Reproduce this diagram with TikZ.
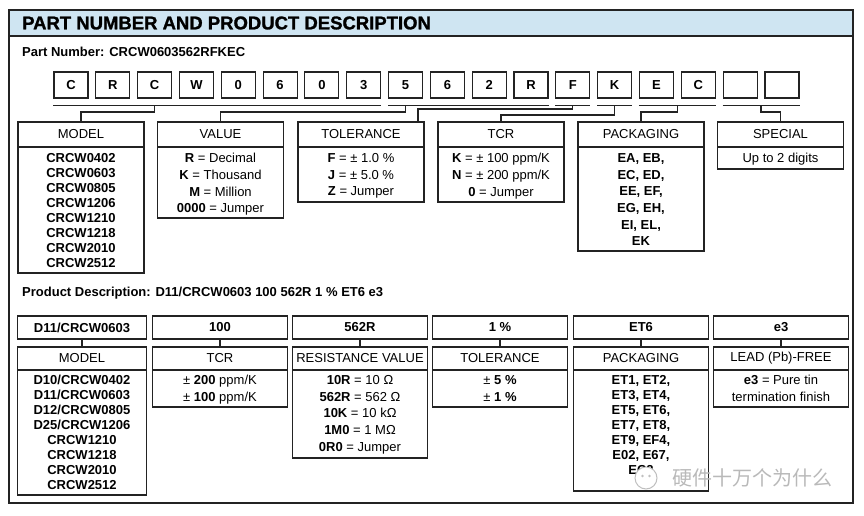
\documentclass[tikz,border=0pt]{standalone}
\usepackage{fontspec}
\setmainfont{Liberation Sans}
\newfontfamily\titlefont{Liberation Sans Bold}[FakeBold=1.3]
\newfontfamily\cjkfont{Noto Sans CJK SC}
\usetikzlibrary{positioning, calc}
\definecolor{headblue}{RGB}{207,229,242}
\definecolor{inkgray}{RGB}{35,35,35}
\tikzset{
  charbox/.style={
    draw=inkgray,
    line width=1.1pt,
    minimum width=34pt,
    minimum height=26pt,
    inner sep=0pt,
    font=\bfseries\fontsize{13}{15}\selectfont
  },
  cathead/.style={
    draw=inkgray,
    line width=1.1pt,
    minimum width=126pt,
    minimum height=25pt,
    inner sep=0pt,
    outer sep=0pt,
    font=\fontsize{13}{15}\selectfont
  },
  catbody/.style={
    draw=inkgray,
    line width=1.1pt,
    minimum width=126pt,
    inner sep=0pt,
    outer sep=0pt
  },
  bodytext/.style={
    anchor=north,
    inner sep=0pt,
    outer sep=0pt,
    align=center,
    font=\fontsize{13}{#1}\selectfont
  },
  bodytext/.default=16.7,
  strongtext/.style={bodytext, font=\bfseries\fontsize{13}{#1}\selectfont},
  strongtext/.default=15,
  codebox/.style={
    draw=inkgray,
    line width=1.1pt,
    minimum width=135pt,
    minimum height=23pt,
    inner sep=0pt,
    outer sep=0pt,
    font=\bfseries\fontsize{13}{15}\selectfont
  },
  link/.style={draw=inkgray, line width=1.1pt}
}

\begin{document}
\begin{tikzpicture}[x=1pt, y=-1pt]
  \useasboundingbox (0,0) rectangle (864,516);

  % frame and title band
  \fill[headblue] (9,10) rectangle (853,36);
  \draw[inkgray, line width=1.1pt] (9,36) -- (853,36);
  \draw[inkgray, line width=1.6pt] (9,10) rectangle (853,503);
  \node[anchor=west, inner sep=0pt, font=\titlefont\fontsize{18.5}{20}\selectfont] (title) at (22,23) {PART NUMBER AND PRODUCT DESCRIPTION};

  % part number
  \node[anchor=west, inner sep=0pt, font=\bfseries\fontsize{13}{15}\selectfont] (partno) at (22,52) {Part Number: CRCW0603562RFKEC};
  \foreach \c [count=\i from 0] in {C,R,C,W,0,6,0,3,5,6,2,R,F,K,E,C,{},{}}
    \node[charbox] (ch\i) at ({71+41.82*\i},85) {\c};

  \coordinate (lvlA) at (0,112);
  \coordinate (lvlB) at (0,109);
  \coordinate (lvlC) at (0,115);
  \coordinate (ecmid) at ($(ch14.south)!0.5!(ch15.south)$);
  \coordinate (spmid) at ($(ch16.south)!0.5!(ch17.south)$);

  \node[cathead, anchor=north] (modelhd) at (81,122) {MODEL};
  \node[catbody, minimum height=126pt, below=0pt of modelhd] (model) {};
  \node[strongtext, below=6.4pt of modelhd] (modeltext) {CRCW0402\\CRCW0603\\CRCW0805\\CRCW1206\\CRCW1210\\CRCW1218\\CRCW2010\\CRCW2512};

  \node[cathead, anchor=north] (valuehd) at (220.5,122) {VALUE};
  \node[catbody, minimum height=71pt, below=0pt of valuehd] (value) {};
  \node[bodytext, below=6.4pt of valuehd] (valuetext) {\textbf{R} = Decimal\\\textbf{K} = Thousand\\\textbf{M} = Million\\\textbf{0000} = Jumper};

  \node[cathead, anchor=north] (tolerancehd) at (361,122) {TOLERANCE};
  \node[catbody, minimum height=55pt, below=0pt of tolerancehd] (tolerance) {};
  \node[bodytext, below=6.4pt of tolerancehd] (tolerancetext) {\textbf{F} = ± 1.0 \%\\\textbf{J} = ± 5.0 \%\\\textbf{Z} = Jumper};

  \node[cathead, anchor=north] (tcrhd) at (501,122) {TCR};
  \node[catbody, minimum height=55pt, below=0pt of tcrhd] (tcr) {};
  \node[bodytext, below=6.4pt of tcrhd] (tcrtext) {\textbf{K} = ± 100 ppm/K\\\textbf{N} = ± 200 ppm/K\\\textbf{0} = Jumper};

  \node[cathead, anchor=north] (packaginghd) at (641,122) {PACKAGING};
  \node[catbody, minimum height=104pt, below=0pt of packaginghd] (packaging) {};
  \node[strongtext=16.7, below=6.4pt of packaginghd] (packagingtext) {EA, EB,\\EC, ED,\\EE, EF,\\EG, EH,\\EI, EL,\\EK};

  \node[cathead, anchor=north] (specialhd) at (780.5,122) {SPECIAL};
  \node[catbody, minimum height=22pt, below=0pt of specialhd] (special) {};
  \node[bodytext, below=6.4pt of specialhd] (specialtext) {Up to 2 digits};

  % brackets under the part number
  \draw[link] ([yshift=-7pt]ch0.south west) -- ([yshift=-7pt]ch7.south east);
  \draw[link] ([yshift=-7pt]ch2.south) |- (modelhd.north |- lvlA) -- (modelhd.north);
  \draw[link] ([yshift=-7pt]ch8.south west) -- ([yshift=-7pt]ch11.south east);
  \draw[link] ([yshift=-7pt]ch8.south) |- (valuehd.north |- lvlA) -- (valuehd.north);
  \draw[link] ([yshift=-7pt]ch12.south west) -- ([yshift=-7pt]ch12.south east);
  \draw[link] ([yshift=-7pt]ch12.south) |- ([xshift=-6pt]tolerancehd.north east |- lvlB) -- ([xshift=-6pt]tolerancehd.north east);
  \draw[link] ([yshift=-7pt]ch13.south west) -- ([yshift=-7pt]ch13.south east);
  \draw[link] ([yshift=-7pt]ch13.south) |- (tcrhd.north |- lvlC) -- (tcrhd.north);
  \draw[link] ([yshift=-7pt]ch14.south west) -- ([yshift=-7pt]ch15.south east);
  \draw[link] ([yshift=-7pt]ecmid) |- (packaginghd.north |- lvlA) -- (packaginghd.north);
  \draw[link] ([yshift=-7pt]ch16.south west) -- ([yshift=-7pt]ch17.south east);
  \draw[link] ([yshift=-7pt]spmid) |- (specialhd.north |- lvlA) -- (specialhd.north);

  % product description
  \node[anchor=west, inner sep=0pt, font=\bfseries\fontsize{13}{15}\selectfont] (proddesc) at (22,292.7) {Product Description: D11/CRCW0603 100 562R 1 \% ET6 e3};

  \node[codebox, minimum width=129pt] (dmodelcode) at (82,327.5) {D11/CRCW0603};
  \node[cathead, minimum width=129pt, minimum height=23pt, below=8pt of dmodelcode] (dmodelhd) {MODEL};
  \node[catbody, minimum width=129pt, minimum height=125pt, below=0pt of dmodelhd] (dmodel) {};
  \node[strongtext, below=5.4pt of dmodelhd] (dmodeltext) {D10/CRCW0402\\D11/CRCW0603\\D12/CRCW0805\\D25/CRCW1206\\CRCW1210\\CRCW1218\\CRCW2010\\CRCW2512};

  \node[codebox] (dtcrcode) at (220,327.5) {100};
  \node[cathead, minimum width=135pt, minimum height=23pt, below=8pt of dtcrcode] (dtcrhd) {TCR};
  \node[catbody, minimum width=135pt, minimum height=37pt, below=0pt of dtcrhd] (dtcr) {};
  \node[bodytext=17, below=5.4pt of dtcrhd] (dtcrtext) {± \textbf{200} ppm/K\\± \textbf{100} ppm/K};

  \node[codebox] (drescode) at (360,327.5) {562R};
  \node[cathead, minimum width=135pt, minimum height=23pt, below=8pt of drescode] (dreshd) {RESISTANCE VALUE};
  \node[catbody, minimum width=135pt, minimum height=88pt, below=0pt of dreshd] (dres) {};
  \node[bodytext, below=5.4pt of dreshd] (drestext) {\textbf{10R} = 10 Ω\\\textbf{562R} = 562 Ω\\\textbf{10K} = 10 kΩ\\\textbf{1M0} = 1 MΩ\\\textbf{0R0} = Jumper};

  \node[codebox] (dtolcode) at (500,327.5) {1 \%};
  \node[cathead, minimum width=135pt, minimum height=23pt, below=8pt of dtolcode] (dtolhd) {TOLERANCE};
  \node[catbody, minimum width=135pt, minimum height=37pt, below=0pt of dtolhd] (dtol) {};
  \node[bodytext=17, below=5.4pt of dtolhd] (dtoltext) {± \textbf{5 \%}\\± \textbf{1 \%}};

  \node[codebox] (dpackcode) at (641,327.5) {ET6};
  \node[cathead, minimum width=135pt, minimum height=23pt, below=8pt of dpackcode] (dpackhd) {PACKAGING};
  \node[catbody, minimum width=135pt, minimum height=121pt, below=0pt of dpackhd] (dpack) {};
  \node[strongtext, below=5.4pt of dpackhd] (dpacktext) {ET1, ET2,\\ET3, ET4,\\ET5, ET6,\\ET7, ET8,\\ET9, EF4,\\E02, E67,\\EC2};

  \node[codebox] (dleadcode) at (781,327.5) {e3};
  \node[cathead, minimum width=135pt, minimum height=23pt, below=8pt of dleadcode] (dleadhd) {LEAD (Pb)-FREE};
  \node[catbody, minimum width=135pt, minimum height=37pt, below=0pt of dleadhd] (dlead) {};
  \node[bodytext=17, below=5.4pt of dleadhd] (dleadtext) {\textbf{e3} = Pure tin\\termination finish};

  \draw[link] (dmodelcode) -- (dmodelhd);
  \draw[link] (dtcrcode) -- (dtcrhd);
  \draw[link] (drescode) -- (dreshd);
  \draw[link] (dtolcode) -- (dtolhd);
  \draw[link] (dpackcode) -- (dpackhd);
  \draw[link] (dleadcode) -- (dleadhd);

  % watermark
  \node[circle, draw=gray!50, fill=white, line width=1pt, minimum size=22pt] (markicon) at (646,478) {};
  \fill[gray!50] ([xshift=-3.5pt, yshift=2pt]markicon.center) circle (1.4pt) ([xshift=3.5pt, yshift=2pt]markicon.center) circle (1.4pt);
  \node[anchor=west, inner sep=0pt, text=gray!55, font=\cjkfont\fontsize{20}{22}\selectfont] (mark) at (672,478) {硬件十万个为什么};
\end{tikzpicture}
\end{document}
